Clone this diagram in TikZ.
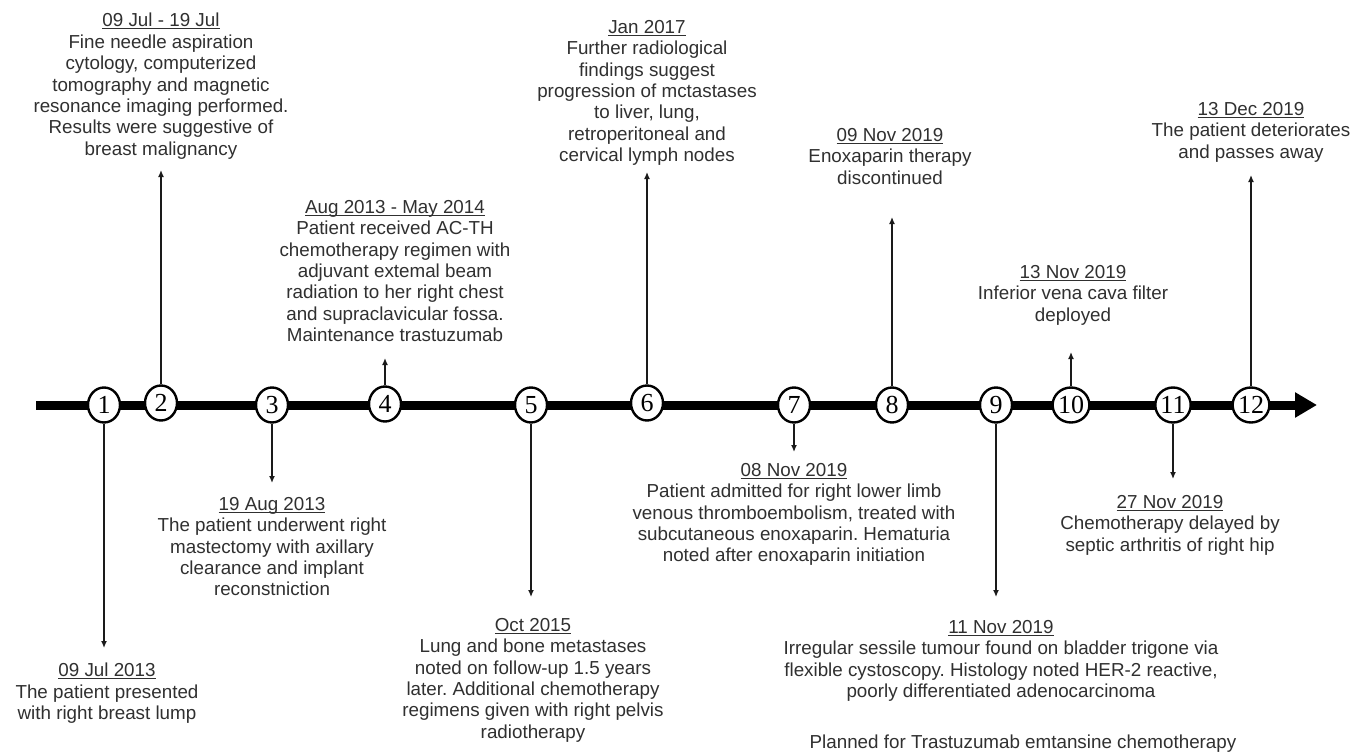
\documentclass[tikz,border=0pt]{standalone}
\usepackage{fontspec}
\setmainfont{Liberation Sans}
\newfontfamily\numfont{Liberation Serif}
\usetikzlibrary{arrows.meta,shapes.geometric}
\definecolor{txt}{HTML}{303030}
\definecolor{linec}{HTML}{1A1A1A}
\newcommand{\udate}[1]{\setbox0\hbox{#1}\rlap{\color{txt}\rule[-2.4pt]{\wd0}{1.1pt}}\box0}
\frenchspacing
\begin{document}
\begin{tikzpicture}[x=1pt,y=-1pt,
  lbl/.style={align=center, anchor=north, inner sep=0pt, text=txt,
    font=\fontsize{18.8}{21.4}\selectfont\frenchspacing},
  conn/.style={line width=1.3pt, draw=linec, -{Latex[length=7pt,width=6pt]}},
  ev/.style={ellipse, draw=black, line width=2.4pt, fill=white,
    minimum width=32pt, minimum height=35pt, inner sep=0pt,
    font=\numfont\fontsize{26}{26}\selectfont},
  axisline/.style={line width=9pt, draw=black, -{Triangle[length=22pt,width=24pt]}}]
\useasboundingbox (0,0) rectangle (1363,752);
\fill[white] (0,0) rectangle (1363,752);
% axis
\coordinate (axS) at (36,405);
\coordinate (axE) at (1317,405);
\draw[axisline] (axS) -- (axE);
% events
\node[ev] (c1) at (104,405) {1};
\node[ev] (c2) at (161,403) {2};
\node[ev] (c3) at (272,405) {3};
\node[ev] (c4) at (385,404) {4};
\node[ev] (c5) at (531,405) {5};
\node[ev] (c6) at (647,403) {6};
\node[ev] (c7) at (794,405) {7};
\node[ev] (c8) at (892,405) {8};
\node[ev] (c9) at (996,405) {9};
\node[ev] (c10) at (1071,405) {10};
\node[ev] (c11) at (1173,405) {11};
\node[ev] (c12) at (1251,405) {12};
% arrow tips
\coordinate (t1) at (104,648);
\coordinate (t2) at (161,170);
\coordinate (t3) at (272,483);
\coordinate (t4) at (385,358);
\coordinate (t5) at (531,597);
\coordinate (t6) at (647,172);
\coordinate (t7) at (794,452);
\coordinate (t8) at (892,217);
\coordinate (t9) at (996,597);
\coordinate (t10) at (1071,352);
\coordinate (t11) at (1173,479);
\coordinate (t12) at (1251,175);
\foreach \i in {1,...,12} {\draw[conn] (c\i) -- (t\i);}
% labels
\node[lbl] (l1) at (107,663) {\udate{09 Jul 2013}\\The patient presented\\with right breast lump};
\node[lbl] (l2) at (161,13) {\udate{09 Jul - 19 Jul}\\Fine needle aspiration\\cytology, computerized\\tomography and magnetic\\resonance imaging performed.\\Results were suggestive of\\breast malignancy};
\node[lbl] (l3) at (272,497) {\udate{19 Aug 2013}\\The patient underwent right\\mastectomy with axillary\\clearance and implant\\reconstniction};
\node[lbl] (l4) at (395,200) {\udate{Aug 2013 - May 2014}\\Patient received AC-TH\\chemotherapy regimen with\\adjuvant extemal beam\\radiation to her right chest\\and supraclavicular fossa.\\Maintenance trastuzumab};
\node[lbl] (l5) at (533,618) {\udate{Oct 2015}\\Lung and bone metastases\\noted on follow-up 1.5 years\\later. Additional chemotherapy\\regimens given with right pelvis\\radiotherapy};
\node[lbl] (l6) at (647,20) {\udate{Jan 2017}\\Further radiological\\findings suggest\\progression of mctastases\\to liver, lung,\\retroperitoneal and\\cervical lymph nodes};
\node[lbl] (l7) at (794,463) {\udate{08 Nov 2019}\\Patient admitted for right lower limb\\venous thromboembolism, treated with\\subcutaneous enoxaparin. Hematuria\\noted after enoxaparin initiation};
\node[lbl] (l8) at (890,128) {\udate{09 Nov 2019}\\Enoxaparin therapy\\discontinued};
\node[lbl] (l9) at (1001,620) {\udate{11 Nov 2019}\\Irregular sessile tumour found on bladder trigone via\\flexible cystoscopy. Histology noted HER-2 reactive,\\poorly differentiated adenocarcinoma};
\node[lbl] (l9b) at (1023,735) {Planned for Trastuzumab emtansine chemotherapy};
\node[lbl] (l10) at (1073,265) {\udate{13 Nov 2019}\\Inferior vena cava filter\\deployed};
\node[lbl] (l11) at (1170,495) {\udate{27 Nov 2019}\\Chemotherapy delayed by\\septic arthritis of right hip};
\node[lbl] (l12) at (1251,102) {\udate{13 Dec 2019}\\The patient deteriorates\\and passes away};
\end{tikzpicture}
\end{document}
